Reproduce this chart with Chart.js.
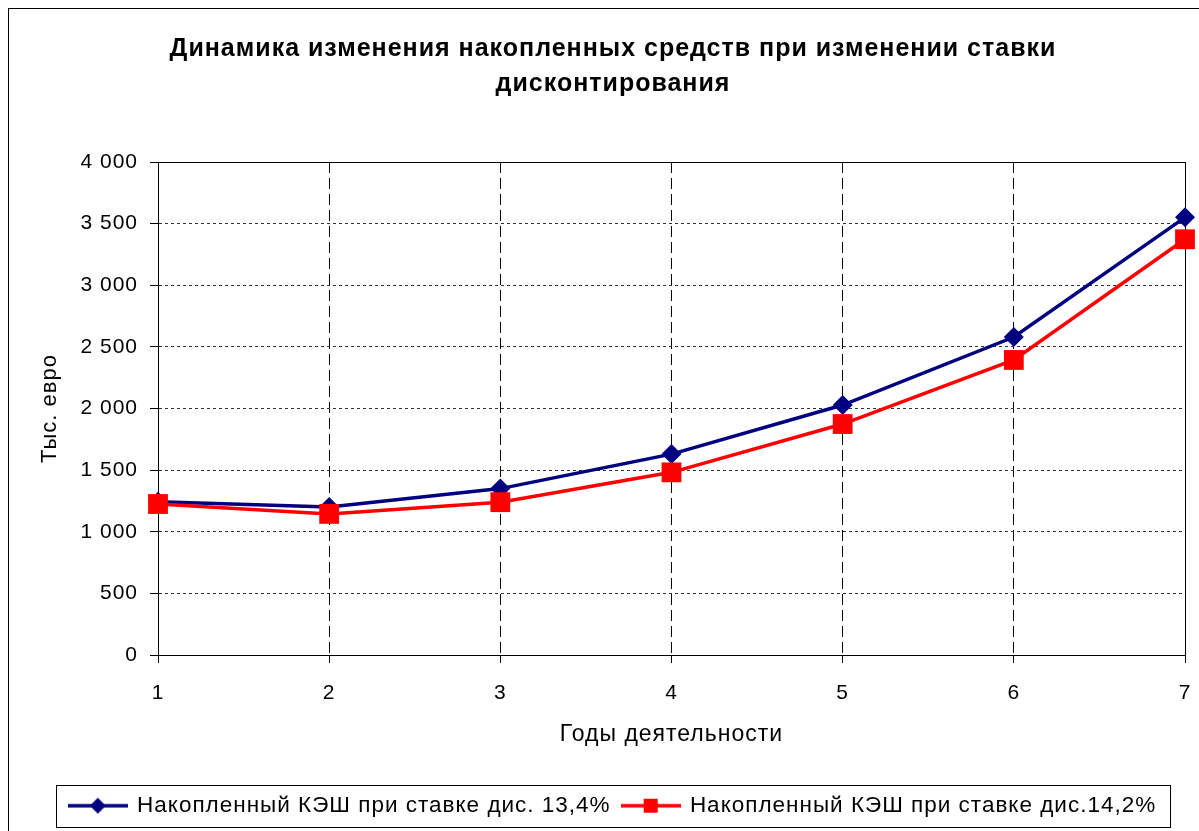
<!DOCTYPE html>
<html><head><meta charset="utf-8">
<script src="https://cdn.jsdelivr.net/npm/chart.js@4"></script>
<style>html,body{margin:0;padding:0;background:#fff;overflow:hidden}canvas{display:block}</style>
</head><body>
<canvas id="c" width="1199" height="831" style="width:1199px;height:831px"></canvas>
<script>
// ---- data ----
const categories = ['1', '2', '3', '4', '5', '6', '7'];
const seriesNames = ['Накопленный КЭШ при ставке дис. 13,4%', 'Накопленный КЭШ при ставке дис.14,2%'];
const cash134 = [1243, 1200, 1350, 1630, 2028, 2580, 3551];
const cash142 = [1225, 1145, 1240, 1482, 1874, 2394, 3373];
const titleLines = ['Динамика изменения накопленных средств при изменении ставки', 'дисконтирования'];
const xAxisTitle = 'Годы деятельности';
const yAxisTitle = 'Тыс. евро';
const yMin = 0, yMax = 4000, yStep = 500;

const BLUE = '#000080', RED = '#ff0000';

function makeIcon(color, shape) {
  const c = document.createElement('canvas');
  c.width = 60; c.height = 24;
  const g = c.getContext('2d');
  g.strokeStyle = color; g.lineWidth = 3.5;
  g.beginPath(); g.moveTo(0, 12); g.lineTo(60, 12); g.stroke();
  g.fillStyle = color;
  if (shape === 'diamond') {
    g.beginPath(); g.moveTo(30, 4); g.lineTo(38, 12); g.lineTo(30, 20); g.lineTo(22, 12); g.closePath(); g.fill();
  } else {
    g.fillRect(23, 5, 14, 14);
  }
  return c;
}
const legendIcons = [makeIcon(BLUE, 'diamond'), makeIcon(RED, 'square')];

function fmt(v) { return String(v).replace(/\B(?=(\d{3})+(?!\d))/g, ' '); }

const framePlugin = {
  id: 'frames',
  beforeLayout(chart) { chart.ctx.letterSpacing = '1px'; },
  beforeDraw(chart) {
    const ctx = chart.ctx;
    ctx.letterSpacing = '1px';
    ctx.save();
    ctx.strokeStyle = '#000'; ctx.lineWidth = 1;
    ctx.strokeRect(8.5, 8.5, 1400, 1000);
    ctx.restore();
  },
  beforeDatasetsDraw(chart) {
    const a = chart.chartArea, ctx = chart.ctx;
    ctx.save();
    ctx.strokeStyle = '#000'; ctx.lineWidth = 1;
    const l = Math.round(a.left) + 0.5, t = Math.round(a.top) + 0.5;
    ctx.strokeRect(l, t, Math.round(a.right) - Math.round(a.left), Math.round(a.bottom) - Math.round(a.top));
    ctx.restore();
  },
  afterDraw(chart) {
    const hb = chart.legend && chart.legend.legendHitBoxes;
    if (!hb || !hb.length) return;
    const ctx = chart.ctx;
    const first = hb[0], last = hb[hb.length - 1];
    const cy = first.top + first.height / 2;
    const left = Math.round(first.left - 14) + 0.5;
    const right = Math.round(last.left + last.width + 14) + 0.5;
    const top = Math.round(cy - 21) + 0.5;
    ctx.save();
    ctx.strokeStyle = '#000'; ctx.lineWidth = 1;
    ctx.strokeRect(left, top, right - left, 42);
    ctx.restore();
  }
};

Chart.defaults.font.family = "'Liberation Sans', Arial, sans-serif";
Chart.defaults.color = '#000';

new Chart(document.getElementById('c'), {
  type: 'line',
  data: {
    labels: categories,
    datasets: [
      { label: seriesNames[0], data: cash134, borderColor: BLUE, backgroundColor: BLUE, borderWidth: 3.5,
        pointStyle: 'rectRot', pointRadius: 10, pointHoverRadius: 10, pointBorderWidth: 0, tension: 0, order: 1 },
      { label: seriesNames[1], data: cash142, borderColor: RED, backgroundColor: RED, borderWidth: 3.5,
        pointStyle: 'rect', pointRadius: 14, pointHoverRadius: 14, pointBorderWidth: 0, tension: 0, order: 0 }
    ]
  },
  options: {
    responsive: false,
    animation: false,
    devicePixelRatio: 1,
    layout: { padding: { left: 39, right: 12, top: 0, bottom: 4 } },
    plugins: {
      tooltip: { enabled: false },
      title: {
        display: true, text: titleLines, color: '#000',
        font: { size: 25, weight: 'bold', lineHeight: 35 / 25 },
        padding: { top: 32, bottom: 60 }
      },
      legend: {
        position: 'bottom',
        labels: {
          usePointStyle: true, pointStyleWidth: 56, padding: 12, color: '#000',
          font: { size: 22.5 },
          generateLabels: (chart) => chart.data.datasets.map((ds, i) => ({
            text: ds.label, pointStyle: legendIcons[i], fillStyle: ds.borderColor,
            strokeStyle: ds.borderColor, lineWidth: 0, hidden: false, datasetIndex: i, fontColor: '#000'
          }))
        }
      }
    },
    scales: {
      x: {
        type: 'category', offset: false,
        grid: { color: '#000', lineWidth: 1, drawTicks: true, tickLength: 8, tickColor: '#000', tickBorderDash: [] },
        border: { display: true, color: '#000', width: 1, dash: [11, 5] },
        ticks: { font: { size: 21 }, padding: 18, color: '#000', maxRotation: 0, autoSkip: false },
        title: { display: true, text: xAxisTitle, color: '#000', font: { size: 23, lineHeight: 1.2 }, padding: { top: 0, bottom: 34.2 } },
        afterFit(s) { s.height = 127.5; s.paddingLeft = 0; s.paddingRight = 0; }
      },
      y: {
        min: yMin, max: yMax,
        grid: { color: '#333', lineWidth: 1, drawTicks: true, tickLength: 8, tickColor: '#000', tickBorderDash: [] },
        border: { display: true, color: '#000', width: 1, dash: [3, 3] },
        ticks: { stepSize: yStep, font: { size: 21 }, padding: 12, color: '#000', callback: (v) => fmt(v) },
        title: { display: true, text: yAxisTitle, color: '#000', font: { size: 22, lineHeight: 1 }, padding: { top: 0, bottom: 0 } },
        afterFit(s) { s.width = 119; }
      }
    }
  },
  plugins: [framePlugin]
});
</script>
</body></html>
